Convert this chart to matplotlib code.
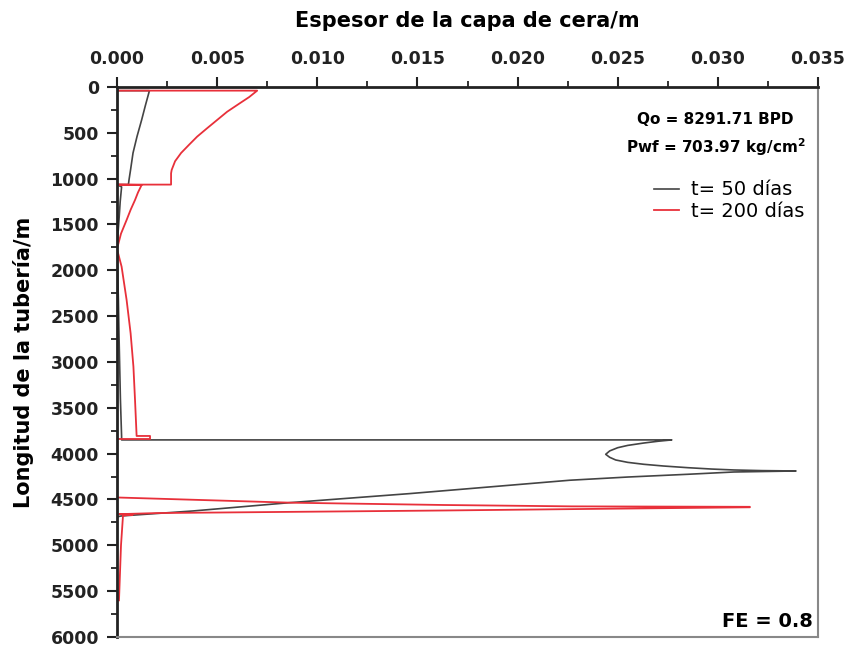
import numpy as np
import matplotlib.pyplot as plt
from matplotlib.ticker import MultipleLocator

# t = 50 dias (espesor en m, profundidad en m)
depth_50 = [40, 40, 200, 360, 540, 720, 900, 1014, 1065, 1065, 1090, 1250, 1450, 1600, 1768,
            2000, 2320, 2700, 3000, 3400, 3814, 3850, 3850, 3865, 3884, 3910, 3935, 3970,
            4007, 4040, 4069, 4095, 4116, 4135, 4153, 4168, 4178, 4185, 4189,
            4200, 4225, 4255, 4290, 4436, 4535, 4625, 4680, 4690, 6000]
thick_50 = [0, 0.00162, 0.00142, 0.00123, 0.001, 0.0008, 0.00068, 0.0006, 0.00057, 0, 0.00023,
            0.00016, 0.0001, 0.00005, 0, 0.00003, 0.00007, 0.0001, 0.00013, 0.00017, 0.00023,
            0.00023, 0.0277, 0.0270, 0.0263, 0.0255, 0.0250, 0.0246,
            0.0244, 0.0246, 0.0249, 0.0255, 0.0263, 0.0273, 0.0285, 0.0297, 0.0308, 0.0322, 0.0339,
            0.0308, 0.0285, 0.0255, 0.0226, 0.0146, 0.0086, 0.0038, 0.0002, 0, 0]

# t = 200 dias
depth_200 = [40, 40, 110, 175, 270, 360, 450, 542, 630, 720, 810, 905, 942, 1065, 1065, 1069,
             1150, 1233, 1340, 1451, 1600, 1768, 1960, 2323, 2687, 3050, 3414, 3807, 3807,
             3840, 3840, 4478, 4535, 4560, 4575, 4580, 4585, 4605, 4620, 4633, 4648, 4660,
             4665, 4675, 5000, 5600]
thick_200 = [0, 0.007, 0.0066, 0.00615, 0.0055, 0.005, 0.0045, 0.004, 0.0036, 0.0032, 0.0029,
             0.00273, 0.0027, 0.0027, 0, 0.00123, 0.00105, 0.0009, 0.00068, 0.00048, 0.0002, 0,
             0.00023, 0.00048, 0.00068, 0.00082, 0.0009, 0.00098, 0.00165, 0.00165, 0, 0,
             0.0087, 0.0163, 0.0227, 0.0316, 0.0316, 0.0227, 0.0163, 0.0097, 0.002, 0.0001,
             0.0008, 0.0003, 0.0002, 0.0001]

fig = plt.figure(figsize=(8.49, 6.5), dpi=100)
ax = fig.add_axes([0.1378, 0.02, 0.8257, 0.8462])

ax.plot(thick_50, depth_50, color='#444444', lw=1.2, label='t= 50 días')
ax.plot(thick_200, depth_200, color='#e8303a', lw=1.3, label='t= 200 días')

ax.set_xlim(0, 0.035)
ax.set_ylim(6000, 0)
ax.xaxis.tick_top()
ax.xaxis.set_label_position('top')
ax.xaxis.set_major_locator(MultipleLocator(0.005))
ax.xaxis.set_minor_locator(MultipleLocator(0.0025))
ax.yaxis.set_major_locator(MultipleLocator(500))
ax.yaxis.set_minor_locator(MultipleLocator(250))
ax.xaxis.set_major_formatter(plt.FormatStrFormatter('%.3f'))

ax.tick_params(axis='both', which='major', direction='out', length=7, width=1.5,
               labelsize=12.5, color='#222222', labelcolor='#222222')
ax.tick_params(axis='x', which='major', pad=7)
ax.tick_params(axis='y', which='major', pad=6)
ax.tick_params(axis='both', which='minor', direction='out', length=4, width=1.3,
               color='#222222')
for lab in ax.get_xticklabels() + ax.get_yticklabels():
    lab.set_fontweight('bold')

for s in ['left', 'top']:
    ax.spines[s].set_linewidth(2)
    ax.spines[s].set_color('#222222')
for s in ['right', 'bottom']:
    ax.spines[s].set_linewidth(1.5)
    ax.spines[s].set_color('#888888')

ax.set_xlabel('Espesor de la capa de cera/m', fontsize=15, fontweight='bold', labelpad=16)
ax.set_ylabel('Longitud de la tubería/m', fontsize=15, fontweight='bold', labelpad=12)

ax.text(0.965, 0.94, 'Qo = 8291.71 BPD', transform=ax.transAxes, ha='right', va='center',
        fontsize=11, fontweight='bold')
ax.text(0.982, 0.89, r'Pwf = 703.97 kg/cm$^\mathbf{2}$', transform=ax.transAxes, ha='right',
        va='center', fontsize=11, fontweight='bold')
ax.text(0.993, 0.01, 'FE = 0.8', transform=ax.transAxes, ha='right', va='bottom',
        fontsize=14, fontweight='bold')

ax.legend(loc='upper right', bbox_to_anchor=(1.0, 0.855), frameon=False, fontsize=14,
          handlelength=1.3, handletextpad=0.6, labelspacing=0.15, borderaxespad=0.3)

fig.savefig('out.png', dpi=100)
